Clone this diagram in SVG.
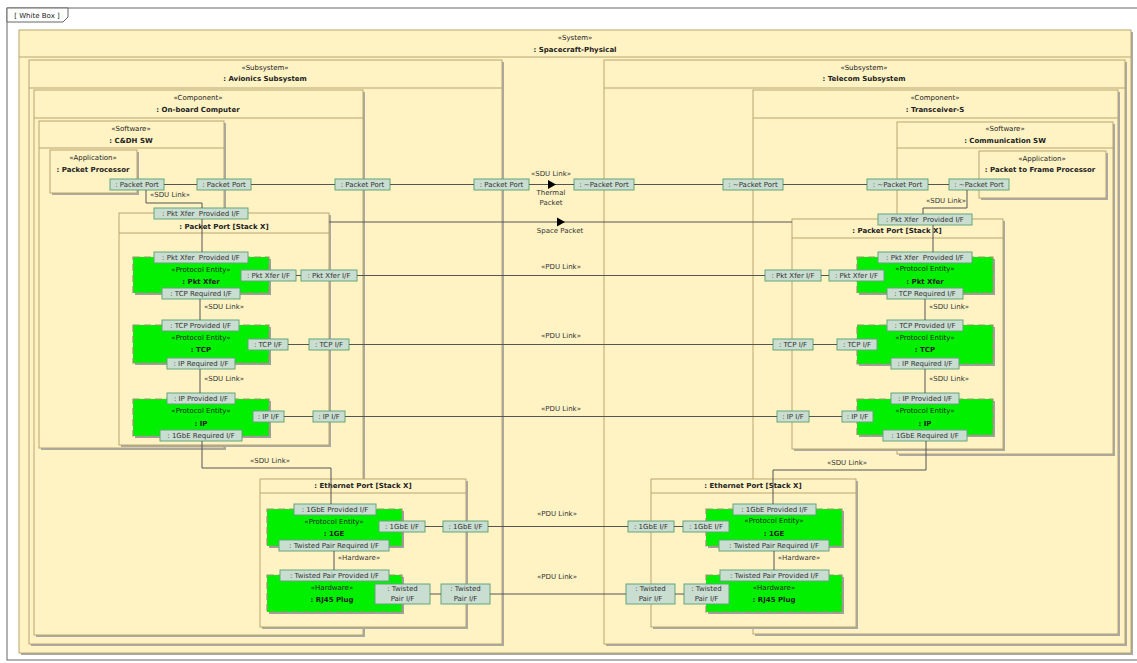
<svg xmlns="http://www.w3.org/2000/svg" xmlns:xlink="http://www.w3.org/1999/xlink" width="1137" height="663" viewBox="0 0 1137 663">
<style>
.box{fill:#FFF3C4;stroke:#B8A56E;stroke-width:1}
.sh{fill:#A9A9A9}
.dv{stroke:#B8A56E;stroke-width:1}
.gr{fill:#00F000;stroke:#9C9670;stroke-width:1.2;stroke-dasharray:7 4}
.gsh{fill:#A0A0A0}
.port{fill:#C9DDD0;stroke:#62A67A;stroke-width:1}
.t{font-family:"DejaVu Sans","Noto Sans",sans-serif;font-size:7px;fill:#222;text-anchor:middle;dominant-baseline:central}
.pt{fill:#333}
.pre{white-space:pre}
.b{font-weight:bold}
.c{stroke:#555;stroke-width:1;fill:none}
.lbl{font-family:"DejaVu Sans","Noto Sans",sans-serif;font-size:7px;fill:#333;text-anchor:middle;dominant-baseline:central}
</style>
<defs>
<polygon id="flow" points="-4,-4.5 4,0 -4,4.5" fill="#000"/>
</defs>
<rect x="0" y="0" width="1137" height="663" fill="#fff"/>
<g id="frame">
<rect x="7" y="8" width="1140" height="652" fill="#fff" stroke="#666"/>
<polygon points="7,8 68,8 68,17 63,22 7,22" fill="#fff" stroke="#666"/>
<text class="t" x="37" y="15.5">[ White Box ]</text>
</g>
<g id="system">
<rect class="sh" x="21" y="32" width="1112" height="623"/>
<rect class="box" x="19" y="30" width="1112" height="623"/>
<line class="dv" x1="19" y1="57" x2="1131" y2="57"/>
<text class="t" x="575" y="38">«System»</text>
<text class="t b" x="575" y="50">: Spacecraft-Physical</text>
</g>
<g id="avionics">
<rect class="sh" x="31" y="62" width="473" height="584"/>
<rect class="box" x="29" y="60" width="473" height="584"/>
<line class="dv" x1="29" y1="88" x2="502" y2="88"/>
<text class="t" x="265" y="68">«Subsystem»</text>
<text class="t b" x="265" y="79">: Avionics Subsystem</text>
</g>
<g id="obc">
<rect class="sh" x="36" y="92" width="329" height="545"/>
<rect class="box" x="34" y="90" width="329" height="545"/>
<line class="dv" x1="34" y1="118" x2="363" y2="118"/>
<text class="t" x="198" y="98">«Component»</text>
<text class="t b" x="198" y="110">: On-board Computer</text>
<rect class="port" x="335" y="179" width="55" height="11"/>
<text class="t pt" x="362.5" y="184.5">: Packet Port</text>
</g>
<g id="cdh">
<rect class="sh" x="41" y="123" width="185" height="327"/>
<rect class="box" x="39" y="121" width="185" height="327"/>
<line class="dv" x1="39" y1="148" x2="224" y2="148"/>
<text class="t" x="131" y="129">«Software»</text>
<text class="t b" x="131" y="141">: C&amp;DH SW</text>
</g>
<g id="packet-processor">
<rect class="sh" x="52" y="152" width="87" height="43"/>
<rect class="box" x="50" y="150" width="87" height="43"/>
<text class="t" x="93" y="158">«Application»</text>
<text class="t b" x="93" y="170">: Packet Processor</text>
<rect class="port" x="110" y="179" width="54" height="11"/>
<text class="t pt" x="137" y="184.5">: Packet Port</text>
</g>
<g id="cdh-port">
<rect class="port" x="197" y="179" width="54" height="11"/>
<text class="t pt" x="224" y="184.5">: Packet Port</text>
</g>
<g id="avionics-port">
<rect class="port" x="474" y="179" width="55" height="11"/>
<text class="t pt" x="501.5" y="184.5">: Packet Port</text>
</g>
<g id="stack-left">
<rect class="sh" x="121" y="215" width="210" height="232"/>
<rect class="box" x="119" y="213" width="210" height="232"/>
<line class="dv" x1="119" y1="233" x2="329" y2="233"/>
<text class="t b" x="224" y="227">: Packet Port [Stack X]</text>
<rect class="port" x="154" y="208" width="94" height="11"/>
<text class="t pt pre" x="201" y="213.5">: Pkt Xfer  Provided I/F</text>
<rect class="port" x="301" y="270" width="56" height="11"/>
<text class="t pt" x="329" y="275.5">: Pkt Xfer I/F</text>
<rect class="port" x="309" y="339" width="40" height="11"/>
<text class="t pt" x="329" y="344.5">: TCP I/F</text>
<rect class="port" x="313" y="411" width="32" height="11"/>
<text class="t pt" x="329" y="416.5">: IP I/F</text>
</g>
<g id="pktxfer-left">
<rect class="gsh" x="135" y="259" width="136" height="36"/>
<rect class="gr" x="133" y="257" width="136" height="36"/>
<text class="t" x="201" y="270">«Protocol Entity»</text>
<text class="t b" x="201" y="282">: Pkt Xfer</text>
<rect class="port" x="154" y="252" width="94" height="11"/>
<text class="t pt pre" x="201" y="257.5">: Pkt Xfer  Provided I/F</text>
<rect class="port" x="162" y="288" width="78" height="11"/>
<text class="t pt" x="201" y="293.5">: TCP Required I/F</text>
<rect class="port" x="241" y="270" width="55" height="11"/>
<text class="t pt" x="268.5" y="275.5">: Pkt Xfer I/F</text>
</g>
<g id="tcp-left">
<rect class="gsh" x="135" y="327" width="136" height="38"/>
<rect class="gr" x="133" y="325" width="136" height="38"/>
<text class="t" x="201" y="338">«Protocol Entity»</text>
<text class="t b" x="201" y="350">: TCP</text>
<rect class="port" x="162" y="320" width="77" height="11"/>
<text class="t pt" x="200.5" y="325.5">: TCP Provided I/F</text>
<rect class="port" x="167" y="358" width="68" height="11"/>
<text class="t pt" x="201" y="363.5">: IP Required I/F</text>
<rect class="port" x="248" y="339" width="40" height="11"/>
<text class="t pt" x="268" y="344.5">: TCP I/F</text>
</g>
<g id="ip-left">
<rect class="gsh" x="135" y="401" width="136" height="37"/>
<rect class="gr" x="133" y="399" width="136" height="37"/>
<text class="t" x="201" y="411">«Protocol Entity»</text>
<text class="t b" x="201" y="424">: IP</text>
<rect class="port" x="167" y="393" width="68" height="11"/>
<text class="t pt" x="201" y="398.5">: IP Provided I/F</text>
<rect class="port" x="160" y="430" width="82" height="11"/>
<text class="t pt" x="201" y="435.5">: 1GbE Required I/F</text>
<rect class="port" x="253" y="411" width="31" height="11"/>
<text class="t pt" x="268.5" y="416.5">: IP I/F</text>
</g>
<g id="eth-left">
<rect class="sh" x="262" y="481" width="206" height="148"/>
<rect class="box" x="260" y="479" width="206" height="148"/>
<line class="dv" x1="260" y1="493" x2="466" y2="493"/>
<text class="t b" x="363" y="486">: Ethernet Port [Stack X]</text>
<rect class="port" x="443" y="521" width="45" height="11"/>
<text class="t pt" x="465.5" y="526.5">: 1GbE I/F</text>
<rect class="port" x="441" y="584" width="49" height="20"/>
<text class="t pt" x="465.5" y="589">: Twisted</text>
<text class="t pt" x="465.5" y="599">Pair I/F</text>
</g>
<g id="ge-left">
<rect class="gsh" x="269" y="511" width="135" height="37"/>
<rect class="gr" x="267" y="509" width="135" height="37"/>
<text class="t" x="334" y="522">«Protocol Entity»</text>
<text class="t b" x="334" y="534">: 1GE</text>
<rect class="port" x="294" y="504" width="82" height="11"/>
<text class="t pt" x="335" y="509.5">: 1GbE Provided I/F</text>
<rect class="port" x="279" y="540" width="110" height="11"/>
<text class="t pt" x="334" y="545.5">: Twisted Pair Required I/F</text>
<rect class="port" x="379" y="521" width="46" height="11"/>
<text class="t pt" x="402" y="526.5">: 1GbE I/F</text>
</g>
<g id="rj45-left">
<rect class="gsh" x="269" y="577" width="135" height="37"/>
<rect class="gr" x="267" y="575" width="135" height="37"/>
<text class="t" x="332" y="588">«Hardware»</text>
<text class="t b" x="332" y="600">: RJ45 Plug</text>
<rect class="port" x="280" y="570" width="109" height="11"/>
<text class="t pt" x="334.5" y="575.5">: Twisted Pair Provided I/F</text>
<rect class="port" x="375" y="584" width="55" height="20"/>
<text class="t pt" x="402.5" y="589">: Twisted</text>
<text class="t pt" x="402.5" y="599">Pair I/F</text>
</g>
<g id="telecom">
<rect class="sh" x="606" y="62" width="521" height="584"/>
<rect class="box" x="604" y="60" width="521" height="584"/>
<line class="dv" x1="604" y1="88" x2="1125" y2="88"/>
<text class="t" x="864" y="68">«Subsystem»</text>
<text class="t b" x="864" y="79">: Telecom Subsystem</text>
<rect class="port" x="574" y="179" width="60" height="11"/>
<text class="t pt" x="604" y="184.5">: ~Packet Port</text>
</g>
<g id="transceiver">
<rect class="sh" x="755" y="92" width="365" height="544"/>
<rect class="box" x="753" y="90" width="365" height="544"/>
<line class="dv" x1="753" y1="118" x2="1118" y2="118"/>
<text class="t" x="935" y="98">«Component»</text>
<text class="t b" x="935" y="110">: Transceiver-S</text>
<rect class="port" x="723" y="179" width="60" height="11"/>
<text class="t pt" x="753" y="184.5">: ~Packet Port</text>
</g>
<g id="comm-sw">
<rect class="sh" x="899" y="124" width="216" height="332"/>
<rect class="box" x="897" y="122" width="216" height="332"/>
<line class="dv" x1="897" y1="148" x2="1113" y2="148"/>
<text class="t" x="1005" y="129">«Software»</text>
<text class="t b" x="1005" y="141">: Communication SW</text>
</g>
<g id="packet-to-frame">
<rect class="sh" x="981" y="153" width="127" height="47"/>
<rect class="box" x="979" y="151" width="127" height="47"/>
<text class="t" x="1042" y="159">«Application»</text>
<text class="t b" x="1040" y="170">: Packet to Frame Processor</text>
<rect class="port" x="949" y="179" width="60" height="11"/>
<text class="t pt" x="979" y="184.5">: ~Packet Port</text>
</g>
<g id="comm-sw-port">
<rect class="port" x="867" y="179" width="61" height="11"/>
<text class="t pt" x="897.5" y="184.5">: ~Packet Port</text>
</g>
<g id="stack-right">
<rect class="sh" x="794" y="221" width="211" height="230"/>
<rect class="box" x="792" y="219" width="211" height="230"/>
<line class="dv" x1="792" y1="238" x2="1003" y2="238"/>
<text class="t b" x="897" y="231">: Packet Port [Stack X]</text>
<rect class="port" x="878" y="214" width="94" height="11"/>
<text class="t pt pre" x="925" y="219.5">: Pkt Xfer  Provided I/F</text>
<rect class="port" x="765" y="270" width="56" height="11"/>
<text class="t pt" x="793" y="275.5">: Pkt Xfer I/F</text>
<rect class="port" x="773" y="339" width="40" height="11"/>
<text class="t pt" x="793" y="344.5">: TCP I/F</text>
<rect class="port" x="777" y="411" width="32" height="11"/>
<text class="t pt" x="793" y="416.5">: IP I/F</text>
</g>
<g id="pktxfer-right">
<rect class="gsh" x="859" y="259" width="136" height="36"/>
<rect class="gr" x="857" y="257" width="136" height="36"/>
<text class="t" x="925" y="269">«Protocol Entity»</text>
<text class="t b" x="925" y="282">: Pkt Xfer</text>
<rect class="port" x="878" y="252" width="94" height="11"/>
<text class="t pt pre" x="925" y="257.5">: Pkt Xfer  Provided I/F</text>
<rect class="port" x="887" y="288" width="76" height="11"/>
<text class="t pt" x="925" y="293.5">: TCP Required I/F</text>
<rect class="port" x="829" y="270" width="55" height="11"/>
<text class="t pt" x="856.5" y="275.5">: Pkt Xfer I/F</text>
</g>
<g id="tcp-right">
<rect class="gsh" x="859" y="327" width="136" height="39"/>
<rect class="gr" x="857" y="325" width="136" height="39"/>
<text class="t" x="925" y="338">«Protocol Entity»</text>
<text class="t b" x="925" y="350">: TCP</text>
<rect class="port" x="887" y="320" width="76" height="11"/>
<text class="t pt" x="925" y="325.5">: TCP Provided I/F</text>
<rect class="port" x="891" y="358" width="68" height="11"/>
<text class="t pt" x="925" y="363.5">: IP Required I/F</text>
<rect class="port" x="837" y="339" width="40" height="11"/>
<text class="t pt" x="857" y="344.5">: TCP I/F</text>
</g>
<g id="ip-right">
<rect class="gsh" x="859" y="401" width="136" height="36"/>
<rect class="gr" x="857" y="399" width="136" height="36"/>
<text class="t" x="925" y="411">«Protocol Entity»</text>
<text class="t b" x="925" y="424">: IP</text>
<rect class="port" x="891" y="393" width="68" height="11"/>
<text class="t pt" x="925" y="398.5">: IP Provided I/F</text>
<rect class="port" x="883" y="430" width="84" height="11"/>
<text class="t pt" x="925" y="435.5">: 1GbE Required I/F</text>
<rect class="port" x="842" y="411" width="31" height="11"/>
<text class="t pt" x="857.5" y="416.5">: IP I/F</text>
</g>
<g id="eth-right">
<rect class="sh" x="653" y="481" width="205" height="148"/>
<rect class="box" x="651" y="479" width="205" height="148"/>
<line class="dv" x1="651" y1="493" x2="856" y2="493"/>
<text class="t b" x="753" y="486">: Ethernet Port [Stack X]</text>
<rect class="port" x="628" y="521" width="46" height="11"/>
<text class="t pt" x="651" y="526.5">: 1GbE I/F</text>
<rect class="port" x="626" y="584" width="49" height="20"/>
<text class="t pt" x="650.5" y="589">: Twisted</text>
<text class="t pt" x="650.5" y="599">Pair I/F</text>
</g>
<g id="ge-right">
<rect class="gsh" x="708" y="511" width="136" height="37"/>
<rect class="gr" x="706" y="509" width="136" height="37"/>
<text class="t" x="774" y="521">«Protocol Entity»</text>
<text class="t b" x="774" y="534">: 1GE</text>
<rect class="port" x="733" y="504" width="83" height="11"/>
<text class="t pt" x="774.5" y="509.5">: 1GbE Provided I/F</text>
<rect class="port" x="719" y="540" width="110" height="11"/>
<text class="t pt" x="774" y="545.5">: Twisted Pair Required I/F</text>
<rect class="port" x="683" y="521" width="46" height="11"/>
<text class="t pt" x="706" y="526.5">: 1GbE I/F</text>
</g>
<g id="rj45-right">
<rect class="gsh" x="708" y="577" width="136" height="37"/>
<rect class="gr" x="706" y="575" width="136" height="37"/>
<text class="t" x="774" y="588">«Hardware»</text>
<text class="t b" x="774" y="600">: RJ45 Plug</text>
<rect class="port" x="720" y="570" width="109" height="11"/>
<text class="t pt" x="774.5" y="575.5">: Twisted Pair Provided I/F</text>
<rect class="port" x="684" y="584" width="45" height="20"/>
<text class="t pt" x="706.5" y="589">: Twisted</text>
<text class="t pt" x="706.5" y="599">Pair I/F</text>
</g>
<g id="connectors">
<path class="c" d="M164 184.5H197M251 184.5H335M390 184.5H474M529 184.5H574M634 184.5H723M783 184.5H867M928 184.5H949"/>
<path class="c" d="M329 222H792"/>
<path class="c" d="M146 190V203H202V208M202 219V252"/>
<path class="c" d="M200 299V320M200 369V393"/>
<path class="c" d="M202 441V468H331V504"/>
<path class="c" d="M334 551V570"/>
<path class="c" d="M967 190V208H923V214M933 225V252"/>
<path class="c" d="M925 299V320M925 369V393"/>
<path class="c" d="M926 441V470H773V504"/>
<path class="c" d="M774 551V570"/>
<path class="c" d="M357 275.5H765M349 344.5H773M345 416.5H777M488 526.5H628M490 594H626"/>
<path class="c" d="M296 275.5H301M288 344.5H309M284 416.5H313M425 526.5H443M430 594H441"/>
<path class="c" d="M821 275.5H829M813 344.5H837M809 416.5H842M674 526.5H683M675 594H684"/>
<use xlink:href="#flow" x="552" y="184.5"/>
<use xlink:href="#flow" x="561" y="222"/>
<text class="lbl" x="551" y="174">«SDU Link»</text>
<text class="lbl" x="551" y="193">Thermal</text>
<text class="lbl" x="551" y="203">Packet</text>
<text class="lbl" x="560" y="231">Space Packet</text>
<text class="lbl" x="170" y="195">«SDU Link»</text>
<text class="lbl" x="224" y="307">«SDU Link»</text>
<text class="lbl" x="224" y="379">«SDU Link»</text>
<text class="lbl" x="270" y="461">«SDU Link»</text>
<text class="lbl" x="359" y="558">«Hardware»</text>
<text class="lbl" x="946" y="201">«SDU Link»</text>
<text class="lbl" x="949" y="307">«SDU Link»</text>
<text class="lbl" x="949" y="379">«SDU Link»</text>
<text class="lbl" x="847" y="463">«SDU Link»</text>
<text class="lbl" x="799" y="558">«Hardware»</text>
<text class="lbl" x="561" y="267">«PDU Link»</text>
<text class="lbl" x="561" y="336">«PDU Link»</text>
<text class="lbl" x="561" y="409">«PDU Link»</text>
<text class="lbl" x="557" y="514">«PDU Link»</text>
<text class="lbl" x="557" y="577">«PDU Link»</text>
</g>
</svg>
